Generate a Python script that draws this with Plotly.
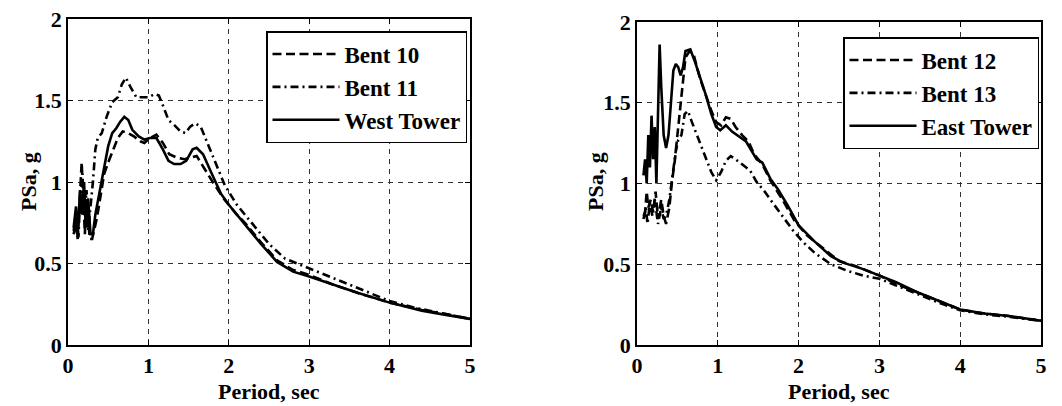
import plotly.graph_objects as go

# ---------------- data ----------------
t_bent10 = [0.07, 0.10, 0.12, 0.14, 0.17, 0.19, 0.21, 0.23, 0.25, 0.27, 0.30, 0.33, 0.36, 0.40, 0.45,
            0.50, 0.55, 0.62, 0.68, 0.75, 0.82, 0.90, 0.95, 1.02, 1.10, 1.18, 1.26, 1.35, 1.45, 1.52,
            1.60, 1.70, 1.80, 1.95, 2.10, 2.20, 2.40, 2.60, 2.80, 3.00, 3.30, 3.60, 4.00, 4.40, 4.70, 5.00]
psa_bent10 = [0.68, 0.75, 0.65, 0.85, 1.12, 0.90, 0.68, 0.95, 0.80, 0.65, 0.65, 0.72, 0.78, 0.90, 1.05,
              1.12, 1.18, 1.27, 1.31, 1.30, 1.28, 1.25, 1.24, 1.27, 1.29, 1.24, 1.17, 1.15, 1.14, 1.15,
              1.16, 1.08, 1.00, 0.89, 0.80, 0.75, 0.63, 0.52, 0.46, 0.43, 0.37, 0.32, 0.26, 0.215, 0.19, 0.16]

t_bent11 = [0.07, 0.10, 0.13, 0.15, 0.18, 0.20, 0.22, 0.25, 0.28, 0.31, 0.34, 0.37, 0.42, 0.48, 0.55,
            0.62, 0.67, 0.72, 0.78, 0.85, 0.92, 1.00, 1.08, 1.13, 1.18, 1.25, 1.32, 1.40, 1.46, 1.52,
            1.58, 1.65, 1.75, 1.85, 1.95, 2.10, 2.30, 2.50, 2.70, 2.90, 3.10, 3.40, 3.70, 4.00, 4.30, 4.70, 5.00]
psa_bent11 = [0.70, 0.80, 0.66, 0.90, 1.05, 0.80, 0.95, 0.70, 0.85, 1.00, 1.20, 1.27, 1.30, 1.40, 1.49,
              1.52, 1.60, 1.64, 1.58, 1.52, 1.52, 1.52, 1.54, 1.53, 1.47, 1.38, 1.35, 1.31, 1.30, 1.34,
              1.36, 1.34, 1.22, 1.10, 0.98, 0.86, 0.74, 0.62, 0.53, 0.49, 0.45, 0.39, 0.33, 0.27, 0.23, 0.19, 0.16]

t_west = [0.07, 0.10, 0.12, 0.15, 0.17, 0.20, 0.22, 0.25, 0.28, 0.31, 0.34, 0.38, 0.42, 0.46, 0.50,
          0.55, 0.60, 0.65, 0.70, 0.75, 0.80, 0.88, 0.95, 1.02, 1.10, 1.18, 1.25, 1.32, 1.40, 1.47,
          1.55, 1.60, 1.68, 1.78, 1.90, 2.00, 2.20, 2.40, 2.60, 2.80, 3.00, 3.30, 3.60, 4.00, 4.40, 4.70, 5.00]
psa_west = [0.72, 0.85, 0.66, 0.95, 0.80, 1.00, 0.72, 0.90, 0.68, 0.68, 0.80, 0.90, 1.00, 1.12, 1.22,
            1.30, 1.33, 1.37, 1.40, 1.38, 1.32, 1.28, 1.26, 1.27, 1.27, 1.20, 1.13, 1.11, 1.11, 1.13,
            1.20, 1.21, 1.17, 1.06, 0.93, 0.86, 0.74, 0.62, 0.51, 0.45, 0.42, 0.37, 0.32, 0.26, 0.21, 0.185, 0.16]

t_bent12 = [0.08, 0.10, 0.12, 0.14, 0.17, 0.20, 0.23, 0.26, 0.30, 0.33, 0.36, 0.40, 0.43, 0.47, 0.50,
            0.53, 0.56, 0.60, 0.65, 0.70, 0.78, 0.85, 0.92, 0.98, 1.04, 1.10, 1.16, 1.22, 1.30, 1.38,
            1.45, 1.55, 1.65, 1.80, 1.95, 2.10, 2.30, 2.50, 2.70, 2.90, 3.00, 3.20, 3.50, 3.80, 4.00,
            4.30, 4.60, 5.00]
psa_bent12 = [0.80, 0.82, 0.95, 0.85, 0.90, 0.82, 0.95, 0.78, 0.90, 0.80, 0.75, 0.85, 1.00, 1.15, 1.30,
              1.45, 1.60, 1.78, 1.82, 1.80, 1.65, 1.55, 1.45, 1.38, 1.36, 1.41, 1.40, 1.35, 1.30, 1.26,
              1.18, 1.12, 1.02, 0.90, 0.77, 0.68, 0.60, 0.52, 0.49, 0.45, 0.43, 0.38, 0.32, 0.26, 0.22,
              0.195, 0.18, 0.15]

t_bent13 = [0.08, 0.11, 0.13, 0.16, 0.19, 0.22, 0.26, 0.30, 0.33, 0.36, 0.40, 0.44, 0.48, 0.51, 0.55,
            0.59, 0.63, 0.68, 0.74, 0.80, 0.86, 0.92, 0.98, 1.04, 1.10, 1.16, 1.22, 1.30, 1.40, 1.48,
            1.58, 1.68, 1.80, 1.93, 2.05, 2.20, 2.40, 2.60, 2.80, 3.00, 3.20, 3.50, 3.80, 4.00, 4.30,
            4.60, 5.00]
psa_bent13 = [0.78, 0.85, 0.75, 0.88, 0.80, 0.90, 0.75, 0.85, 0.78, 0.80, 0.90, 1.05, 1.20, 1.27, 1.30,
              1.43, 1.45, 1.38, 1.30, 1.22, 1.15, 1.07, 1.02, 1.07, 1.14, 1.17, 1.15, 1.12, 1.08, 1.01,
              0.95, 0.88, 0.80, 0.71, 0.64, 0.57, 0.50, 0.46, 0.43, 0.41, 0.37, 0.31, 0.25, 0.215, 0.19,
              0.175, 0.15]

t_east = [0.08, 0.10, 0.12, 0.14, 0.16, 0.18, 0.20, 0.22, 0.24, 0.26, 0.28, 0.30, 0.33, 0.36, 0.39,
          0.42, 0.45, 0.48, 0.51, 0.54, 0.57, 0.60, 0.66, 0.72, 0.78, 0.85, 0.92, 0.98, 1.03, 1.10,
          1.18, 1.26, 1.35, 1.42, 1.48, 1.55, 1.65, 1.75, 1.87, 2.00, 2.20, 2.40, 2.55, 2.80, 3.00,
          3.20, 3.50, 3.80, 4.00, 4.30, 4.60, 5.00]
psa_east = [1.05, 1.15, 1.00, 1.30, 1.10, 1.42, 1.15, 1.35, 1.00, 1.50, 1.86, 1.60, 1.30, 1.22, 1.30,
            1.50, 1.70, 1.74, 1.72, 1.67, 1.72, 1.82, 1.83, 1.75, 1.66, 1.55, 1.43, 1.35, 1.33, 1.36,
            1.32, 1.29, 1.26, 1.20, 1.15, 1.13, 1.03, 0.96, 0.86, 0.74, 0.64, 0.55, 0.51, 0.47, 0.43,
            0.39, 0.32, 0.26, 0.22, 0.195, 0.18, 0.15]

x_ticks = [0, 1, 2, 3, 4, 5]
x_tick_text = ["0", "1", "2", "3", "4", "5"]
y_ticks = [0, 0.5, 1, 1.5, 2]
y_tick_text = ["0", "0.5", "1", "1.5", "2"]

# ---------------- styling ----------------
FONT = "Liberation Serif"
DASH = "9px,4.5px"
DASHDOT = "8px,4px,2px,4px"
LW = 2.6


def bold(s):
    return "<b>" + s + "</b>"


fig = go.Figure()

left = [("Bent 10", t_bent10, psa_bent10, DASH),
        ("Bent 11", t_bent11, psa_bent11, DASHDOT),
        ("West Tower", t_west, psa_west, "solid")]
right = [("Bent 12", t_bent12, psa_bent12, DASH),
         ("Bent 13", t_bent13, psa_bent13, DASHDOT),
         ("East Tower", t_east, psa_east, "solid")]

for name, t, p, d in left:
    fig.add_trace(go.Scatter(x=t, y=p, mode="lines", name=bold(name),
                             line=dict(color="black", width=LW, dash=d),
                             xaxis="x", yaxis="y", legend="legend"))
for name, t, p, d in right:
    fig.add_trace(go.Scatter(x=t, y=p, mode="lines", name=bold(name),
                             line=dict(color="black", width=LW, dash=d),
                             xaxis="x2", yaxis="y2", legend="legend2"))

W, H = 1062, 406


def px_x(v):
    return v / W


def px_y(v):
    return (H - v) / H


axis_common = dict(
    showline=True, linecolor="black", linewidth=1.5, mirror="ticks",
    ticks="inside", ticklen=5, tickwidth=1, tickcolor="black",
    showgrid=True, gridcolor="#333333", gridwidth=1, griddash="5px,5px",
    zeroline=False, automargin=False,
    tickfont=dict(family=FONT, size=22, color="black"),
)

xt = [bold(s) for s in x_tick_text]
yt = [bold(s) for s in y_tick_text]

fig.update_layout(
    width=W, height=H,
    margin=dict(l=0, r=0, t=0, b=0),
    paper_bgcolor="white", plot_bgcolor="white",
    showlegend=True,
    xaxis=dict(domain=[px_x(68), px_x(470)], range=[0, 5], tickvals=x_ticks, ticktext=xt,
               anchor="y", **axis_common),
    yaxis=dict(domain=[px_y(345), px_y(19)], range=[0, 2], tickvals=y_ticks,
               ticktext=yt, anchor="x", **axis_common),
    xaxis2=dict(domain=[px_x(637), px_x(1041)], range=[0, 5], tickvals=x_ticks, ticktext=xt,
                anchor="y2", **axis_common),
    yaxis2=dict(domain=[px_y(345), px_y(22)], range=[0, 2], tickvals=y_ticks,
                ticktext=yt, anchor="x2", **axis_common),
    legend=dict(x=px_x(467), y=px_y(31), xanchor="right", yanchor="top",
                bgcolor="white", bordercolor="black", borderwidth=1.5,
                font=dict(family=FONT, size=23, color="black"),
                itemwidth=67, tracegroupgap=0),
    legend2=dict(x=px_x(1039), y=px_y(37), xanchor="right", yanchor="top",
                 bgcolor="white", bordercolor="black", borderwidth=1.5,
                 font=dict(family=FONT, size=23, color="black"),
                 itemwidth=67, tracegroupgap=0),
)

title_font = dict(family=FONT, size=22, color="black")
annotations = [
    dict(text=bold("Period, sec"), x=px_x(269), y=px_y(391), xref="paper", yref="paper",
         showarrow=False, font=title_font, xanchor="center", yanchor="middle"),
    dict(text=bold("Period, sec"), x=px_x(839), y=px_y(391), xref="paper", yref="paper",
         showarrow=False, font=title_font, xanchor="center", yanchor="middle"),
    dict(text=bold("PSa, g"), x=px_x(28), y=px_y(182), xref="paper", yref="paper",
         showarrow=False, font=title_font, textangle=-90, xanchor="center", yanchor="middle"),
    dict(text=bold("PSa, g"), x=px_x(595), y=px_y(182), xref="paper", yref="paper",
         showarrow=False, font=title_font, textangle=-90, xanchor="center", yanchor="middle"),
]
fig.update_layout(annotations=annotations)

fig.write_html("out.html")
